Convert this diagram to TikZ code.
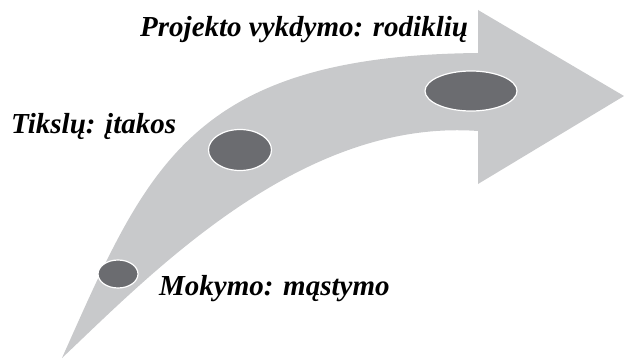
\documentclass[tikz,border=0pt]{standalone}
\usepackage{fontspec}
\setmainfont{Liberation Serif}
\usetikzlibrary{shapes.geometric}
\definecolor{arrowgray}{HTML}{C8C9CB}
\definecolor{spotgray}{HTML}{6B6C70}

\begin{document}
\begin{tikzpicture}[
    x=1pt, y=-1pt,
    font=\fontsize{29}{31}\selectfont\bfseries\itshape,
    spot/.style={ellipse, draw=white, line width=1.2pt, fill=spotgray, inner sep=0pt},
    lbl/.style={anchor=base west, inner sep=0pt}
]
\useasboundingbox (0,0) rectangle (624,361);
% curved arrow
\fill[arrowgray] (62,358) .. controls (147,168) and (189,56) .. (478,53)
    -- (478,10) -- (624,96) -- (478,184) -- (478,131)
    .. controls (300,118) and (150,275) .. (62,358) -- cycle;
% stages
\node[spot, minimum width=40pt, minimum height=28pt] (mokymo) at (118,274) {};
\node[spot, minimum width=63pt, minimum height=41pt] (tikslu) at (240,150) {};
\node[spot, minimum width=92pt, minimum height=40pt] (projekto) at (471,91) {};
% labels
\node[lbl] (mokymolbl) at (159,295) {Mokymo: mąstymo};
\node[lbl] (tikslulbl) at (11,133) {Tikslų: įtakos};
\node[lbl] (projektolbl) at (140,37) {Projekto vykdymo: rodiklių};
\end{tikzpicture}
\end{document}
